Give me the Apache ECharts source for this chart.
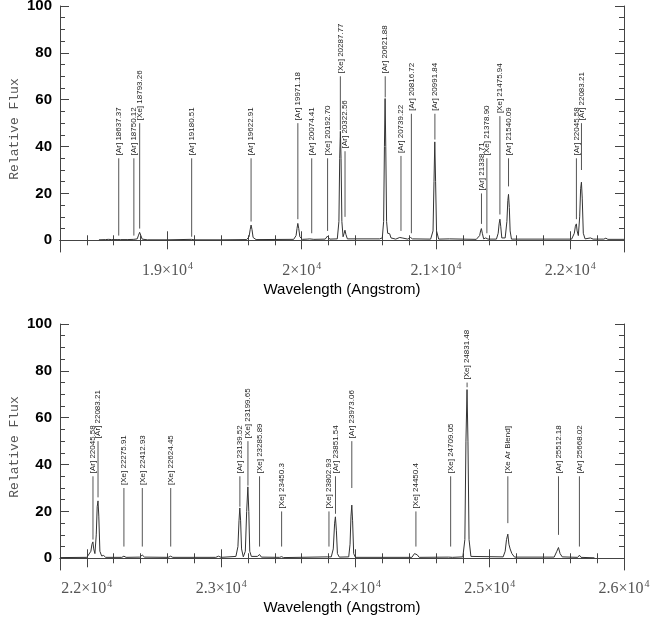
<!DOCTYPE html>
<html>
<head>
<meta charset="utf-8">
<script src="https://cdn.jsdelivr.net/npm/echarts@6/dist/echarts.min.js"></script>
<style>
  html, body { margin: 0; padding: 0; background: #fff; }
  #chart { width: 654px; height: 622px; }
</style>
</head>
<body>
<div id="chart"></div>
<script>
// Arc-lamp calibration spectrum, split over two wavelength windows.

// ---- Upper window: 18200-22400 Angstrom ----
const topRange = [18200, 22400];
const topMajorTicks = [19000, 20000, 21000, 22000];
const topSpectrum = [
  [18490,0.2],[18540,0.3],[18560,0.4],[18572,0.9],[18585,0.3],[18625,0.3],[18637,0.8],[18650,0.3],
  [18700,0.3],[18750,0.4],[18775,0.6],[18785,2.2],[18793,3.4],[18801,2.2],[18812,0.5],[18850,0.2],
  [19000,0.2],[19180,0.4],[19200,0.2],[19400,0.2],[19590,0.3],[19608,1.5],[19616,4.5],[19623,6.5],
  [19630,4.5],[19638,1.2],[19660,0.3],[19940,0.4],[19958,2],[19965,5],[19971,7.2],[19978,5],
  [19986,1.5],[20005,0.4],[20040,0.5],[20050,1.3],[20060,0.6],[20074,0.9],[20090,0.4],[20175,0.5],
  [20192,1.8],[20208,0.5],[20265,0.6],[20277,8],[20283,35],[20288,46.5],[20293,35],[20299,8],
  [20308,1.5],[20316,3],[20322,4.3],[20329,2.5],[20340,0.6],[20580,0.6],[20600,1.0],[20610,8],
  [20616,40],[20621,60.5],[20626,40],[20632,8],[20640,3],[20655,2.8],[20665,1],[20700,0.5],
  [20730,1.2],[20739,2],[20748,1.0],[20790,0.5],[20810,1.2],[20817,1.5],[20825,0.6],[20960,0.5],
  [20978,4],[20985,25],[20991,42],[20997,25],[21004,4],[21020,0.5],[21100,0.6],[21110,0.3],
  [21300,0.4],[21325,2],[21332,4],[21338,5],[21345,3],[21355,0.6],[21370,1],[21378,1.5],
  [21387,0.5],[21450,0.5],[21463,3],[21470,7],[21476,9],[21482,6],[21490,1],[21515,1],
  [21528,8],[21535,17],[21540,19.6],[21546,14],[21552,4],[21562,0.5],[22010,0.5],[22030,3],
  [22038,6],[22045,7],[22051,4],[22060,2],[22070,10],[22077,22],[22083,24.8],[22089,18],
  [22097,3],[22110,0.6],[22150,1],[22170,0.5],[22250,0.5],[22265,0.9],[22280,0.4],[22400,0.4]
];
const topLineWave = [18637.37, 18750.12, 18793.26, 19180.51, 19622.91, 19971.18, 20074.41, 20192.70,
  20287.77, 20322.56, 20621.88, 20739.22, 20816.72, 20991.84, 21338.71, 21378.90, 21475.94, 21540.09,
  22045.58, 22083.21];
const topLineLabel = ['[Ar] 18637.37', '[Ar] 18750.12', '[Xe] 18793.26', '[Ar] 19180.51', '[Ar] 19622.91',
  '[Ar] 19971.18', '[Ar] 20074.41', '[Xe] 20192.70', '[Xe] 20287.77', '[Ar] 20322.56', '[Ar] 20621.88',
  '[Ar] 20739.22', '[Ar] 20816.72', '[Ar] 20991.84', '[Ar] 21338.71', '[Xe] 21378.90', '[Xe] 21475.94',
  '[Ar] 21540.09', '[Ar] 22045.58', '[Ar] 22083.21'];
const topLineTop = [35, 35, 50, 35, 35, 50, 35, 35, 70, 38, 70, 36, 54, 54, 20, 35, 53, 35, 35, 50];
const topLineBottom = [2, 2, 5, 1.5, 8, 9, 3, 4, 47, 10, 61, 4, 3, 43, 7, 3, 11, 23, 9, 30];

// ---- Lower window: 21800-26000 Angstrom ----
const bottomRange = [21800, 26000];
const bottomMajorTicks = [22000, 23000, 24000, 25000, 26000];
const bottomSpectrum = [
  [21800,0.3],[22000,0.4],[22030,3],[22038,6],[22045,7],[22051,4],[22060,2],[22070,10],
  [22077,22],[22083,24.5],[22089,18],[22097,3],[22110,1],[22125,1.2],[22140,0.4],[22260,0.4],
  [22276,0.9],[22292,0.4],[22395,0.5],[22412,1.4],[22430,0.5],[22605,0.4],[22624,0.9],[22640,0.4],
  [22960,0.4],[22980,0.9],[23000,0.4],[23110,0.8],[23125,5],[23133,16],[23139,21.5],[23145,16],
  [23152,4],[23165,0.6],[23180,3],[23190,20],[23199,30.5],[23206,20],[23213,3],[23225,0.8],
  [23270,0.8],[23286,1.6],[23300,0.5],[23435,0.4],[23450,0.7],[23465,0.3],[23790,0.6],[23803,1.3],
  [23820,0.6],[23835,4],[23845,15],[23851,17.7],[23858,12],[23866,2],[23880,0.5],[23950,0.6],
  [23960,6],[23967,18],[23973,22.7],[23979,16],[23987,2],[24000,0.4],[24420,0.4],[24440,2],
  [24450,2.7],[24460,1.5],[24475,0.4],[24695,0.5],[24709,1.3],[24722,0.4],[24800,0.6],[24815,8],
  [24823,50],[24831,72],[24838,50],[24846,8],[24860,0.8],[25100,0.6],[25115,3],[25125,8],
  [25135,10.3],[25143,6],[25152,4],[25165,2],[25185,0.5],[25480,0.5],[25500,3],[25512,4.6],
  [25524,2],[25540,0.6],[25655,0.4],[25668,1.3],[25680,0.4],[25780,0.2]
];
const bottomLineWave = [22045.58, 22083.21, 22275.91, 22412.93, 22624.45, 23139.52, 23199.65, 23285.89,
  23450.3, 23802.93, 23851.54, 23973.06, 24450.4, 24709.05, 24831.48, 25135, 25512.18, 25668.02];
const bottomLineLabel = ['[Ar] 22045.58', '[Ar] 22083.21', '[Xe] 22275.91', '[Xe] 22412.93', '[Xe] 22624.45',
  '[Ar] 23139.52', '[Xe] 23199.65', '[Xe] 23285.89', '[Xe] 23450.3', '[Xe] 23802.93', '[Ar] 23851.54',
  '[Ar] 23973.06', '[Xe] 24450.4', '[Xe] 24709.05', '[Xe] 24831.48', '[Xe Ar Blend]', '[Ar] 25512.18',
  '[Ar] 25668.02'];
const bottomLineTop = [35, 50, 30, 30, 30, 35, 50, 35, 20, 20, 35, 50, 20, 35, 75, 35, 35, 35];
const bottomLineBottom = [8, 26, 5, 5, 5, 22, 31, 5, 5, 5, 19, 30, 5, 5, 73, 15, 10, 5];

// ---- Shared axis settings ----
const fluxRange = [-5, 100];
const fluxMajorTicks = [0, 20, 40, 60, 80, 100];
const xAxisTitle = 'Wavelength (Angstrom)';
const yAxisTitle = 'Relative Flux';

const axisColor = '#444';
const minorStep = 200;
const fluxMinorStep = 5;

function stepValues(lo, hi, step) {
  const out = [];
  for (let v = Math.ceil(lo / step) * step; v <= hi; v += step) out.push(v);
  return out;
}

function sciLabel(v) {
  const m = +(v / 10000).toFixed(2);
  return '{n|' + m + '×10}{e|4}';
}

const grids = [
  { left: 60, right: 30, top: 6, height: 246, outerBoundsMode: 'none', containLabel: false },
  { left: 60, right: 30, top: 324, height: 246, outerBoundsMode: 'none', containLabel: false }
];

const panels = [
  { range: topRange, majors: topMajorTicks, spectrum: topSpectrum,
    wave: topLineWave, label: topLineLabel, top: topLineTop, bottom: topLineBottom },
  { range: bottomRange, majors: bottomMajorTicks, spectrum: bottomSpectrum,
    wave: bottomLineWave, label: bottomLineLabel, top: bottomLineTop, bottom: bottomLineBottom }
];

const xAxes = [], yAxes = [], series = [];

panels.forEach((p, g) => {
  const minors = stepValues(p.range[0], p.range[1], minorStep);
  const base = { type: 'value', gridIndex: g, min: p.range[0], max: p.range[1],
    splitLine: { show: false } };
  // bottom: frame, major ticks, labels, title
  xAxes.push(Object.assign({}, base, {
    position: 'bottom',
    axisLine: { show: true, lineStyle: { color: axisColor, width: 1 } },
    axisTick: { show: true, inside: true, length: 9, customValues: p.majors, lineStyle: { color: axisColor } },
    axisLabel: { show: true, customValues: p.majors, margin: 9, color: '#555',
      formatter: sciLabel,
      rich: {
        n: { fontFamily: 'Liberation Serif', fontSize: 16, color: '#555' },
        e: { fontFamily: 'Liberation Serif', fontSize: 10, color: '#555', padding: [0, 0, 9, 1] }
      } },
    name: xAxisTitle, nameLocation: 'middle', nameGap: 30, nameMoveOverlap: false,
    nameTextStyle: { fontFamily: 'Liberation Sans', fontSize: 15, color: '#000' }
  }));
  // bottom minor ticks
  xAxes.push(Object.assign({}, base, {
    position: 'bottom', axisLine: { show: false },
    axisTick: { show: true, inside: true, length: 5, customValues: minors, lineStyle: { color: axisColor } },
    axisLabel: { show: false }
  }));
  // top frame and ticks
  xAxes.push(Object.assign({}, base, {
    position: 'top',
    axisLine: { show: true, lineStyle: { color: axisColor, width: 1 } },
    axisTick: { show: true, inside: true, length: 9, customValues: p.majors, lineStyle: { color: axisColor } },
    axisLabel: { show: false }
  }));
  xAxes.push(Object.assign({}, base, {
    position: 'top', axisLine: { show: false },
    axisTick: { show: true, inside: true, length: 5, customValues: minors, lineStyle: { color: axisColor } },
    axisLabel: { show: false }
  }));

  const fluxMinors = stepValues(0, fluxRange[1], fluxMinorStep);
  const yBase = { type: 'value', gridIndex: g, min: fluxRange[0], max: fluxRange[1],
    splitLine: { show: false } };
  yAxes.push(Object.assign({}, yBase, {
    position: 'left',
    axisLine: { show: true, lineStyle: { color: axisColor, width: 1 } },
    axisTick: { show: true, inside: true, length: 9, customValues: fluxMajorTicks, lineStyle: { color: axisColor } },
    axisLabel: { show: true, customValues: fluxMajorTicks, margin: 8, color: '#000',
      fontFamily: 'Liberation Sans', fontSize: 15, fontWeight: 'bold' },
    name: yAxisTitle, nameLocation: 'middle', nameGap: 39, nameRotate: 90, nameMoveOverlap: false,
    nameTextStyle: { fontFamily: 'Liberation Mono', fontSize: 13, color: '#555' }
  }));
  yAxes.push(Object.assign({}, yBase, {
    position: 'left', axisLine: { show: false },
    axisTick: { show: true, inside: true, length: 5, customValues: fluxMinors, lineStyle: { color: axisColor } },
    axisLabel: { show: false }
  }));
  yAxes.push(Object.assign({}, yBase, {
    position: 'right',
    axisLine: { show: true, lineStyle: { color: axisColor, width: 1 } },
    axisTick: { show: true, inside: true, length: 9, customValues: fluxMajorTicks, lineStyle: { color: axisColor } },
    axisLabel: { show: false }
  }));
  yAxes.push(Object.assign({}, yBase, {
    position: 'right', axisLine: { show: false },
    axisTick: { show: true, inside: true, length: 5, customValues: fluxMinors, lineStyle: { color: axisColor } },
    axisLabel: { show: false }
  }));

  const xi = g * 4, yi = g * 4;
  series.push({
    type: 'line', xAxisIndex: xi, yAxisIndex: yi, data: p.spectrum,
    showSymbol: false, symbol: 'none', silent: true,
    lineStyle: { color: '#333', width: 1 }
  });

  // identified emission lines: a tick above each feature plus its rotated label
  const lineData = p.wave.map((w, i) => [w, p.top[i], p.bottom[i]]);
  series.push({
    type: 'custom', xAxisIndex: xi, yAxisIndex: yi, data: lineData, silent: true,
    clip: false,
    encode: { x: 0, y: [1, 2] },
    renderItem: (params, api) => {
      const w = api.value(0);
      const a = api.coord([w, api.value(1)]);
      const b = api.coord([w, api.value(2)]);
      return {
        type: 'group',
        children: [
          { type: 'line', shape: { x1: a[0], y1: a[1], x2: b[0], y2: b[1] },
            style: { stroke: '#555', lineWidth: 1 } },
          { type: 'text', x: a[0], y: a[1] - 3, rotation: Math.PI / 2,
            style: { text: p.label[params.dataIndex], fill: '#222',
              font: '8px "Liberation Sans"', align: 'left', verticalAlign: 'middle' } }
        ]
      };
    }
  });
});

const chart = echarts.init(document.getElementById('chart'), null, { renderer: 'canvas' });
chart.setOption({
  animation: false,
  backgroundColor: '#fff',
  grid: grids,
  xAxis: xAxes,
  yAxis: yAxes,
  series: series
});
</script>
</body>
</html>
